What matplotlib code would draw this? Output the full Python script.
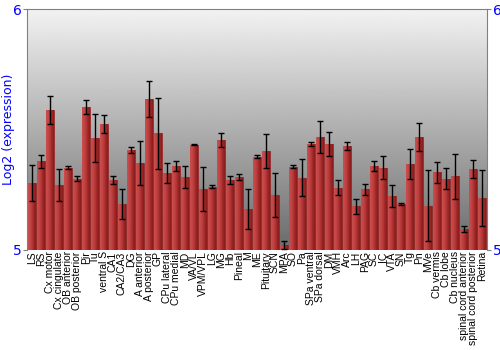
import matplotlib
matplotlib.use("Agg")
import matplotlib.pyplot as plt
from matplotlib.colors import LinearSegmentedColormap
import numpy as np

regions = ["LS", "RS", "Cx motor", "Cx cingulate", "OB anterior", "OB posterior",
           "Pir", "Tu", "ventral S", "CA1", "CA2/CA3", "DG", "A anterior",
           "A posterior", "GP", "CPu lateral", "CPu medial", "MD", "VA/VL",
           "VPM/VPL", "LG", "MG", "Hb", "Pineal", "M", "ME", "Pituitary", "SCN",
           "MPA", "SO", "Pa", "SPa ventral", "SPa dorsal", "DM", "VMH", "Arc",
           "LH", "PAG", "SC", "IC", "VTA", "SN", "Tg", "Pn", "MVe", "Cb vermis",
           "Cb lobe", "Cb nucleus", "spinal cord anterior", "spinal cord posterior",
           "Retina"]
expr = [5.277, 5.368, 5.581, 5.270, 5.342, 5.295, 5.593, 5.466, 5.523, 5.290,
        5.191, 5.416, 5.361, 5.627, 5.485, 5.318, 5.349, 5.303, 5.437, 5.253,
        5.263, 5.456, 5.290, 5.302, 5.170, 5.387, 5.411, 5.228, 5.021, 5.346,
        5.300, 5.440, 5.469, 5.441, 5.259, 5.433, 5.181, 5.252, 5.350, 5.342,
        5.223, 5.190, 5.357, 5.470, 5.184, 5.322, 5.296, 5.306, 5.087, 5.336,
        5.216]
err = [0.075, 0.026, 0.059, 0.066, 0.007, 0.010, 0.028, 0.100, 0.039, 0.017,
       0.063, 0.012, 0.093, 0.076, 0.147, 0.041, 0.021, 0.047, 0.002, 0.093,
       0.008, 0.028, 0.015, 0.012, 0.083, 0.006, 0.069, 0.090, 0.018, 0.006,
       0.077, 0.010, 0.068, 0.050, 0.030, 0.017, 0.032, 0.023, 0.021, 0.046,
       0.046, 0.003, 0.062, 0.059, 0.149, 0.044, 0.044, 0.093, 0.012, 0.039,
       0.117]

fig = plt.figure(figsize=(5, 3.5), dpi=100)
ax = fig.add_axes([0.054, 0.286, 0.92, 0.688])

x = np.arange(len(regions))
x0, x1 = -0.55, len(regions) - 0.45
ax.set_xlim(x0, x1)
ax.set_ylim(5, 6)

# gray gradient background
grad = np.linspace(0.42, 0.95, 256).reshape(-1, 1)
ax.imshow(grad, cmap="gray", vmin=0, vmax=1, aspect="auto", origin="lower",
          extent=[x0, x1, 5, 6], zorder=0)

bars = ax.bar(x, np.array(expr) - 5, bottom=5, width=0.85, color="#b93434",
              edgecolor="#8c1e1e", linewidth=0.5, zorder=2)

# horizontal shading inside each bar
red_cmap = LinearSegmentedColormap.from_list(
    "barshade", ["#c85050", "#c44646", "#b83838", "#9e2626", "#8a1c1c"])
shade = np.linspace(0, 1, 32).reshape(1, -1)
for b in bars:
    im = ax.imshow(shade, cmap=red_cmap, aspect="auto",
                   extent=[b.get_x(), b.get_x() + b.get_width(), 5, b.get_y() + b.get_height()],
                   zorder=2.5)
    im.set_clip_path(b)
ax.set_xlim(x0, x1)
ax.set_ylim(5, 6)

ax.errorbar(x, expr, yerr=err, fmt="none", ecolor="black", elinewidth=1,
            capsize=2.5, capthick=1, zorder=3)

ax.set_xticks(x)
ax.set_xticklabels(regions, rotation=90, fontsize=7.5, family="Liberation Sans")
ax.tick_params(axis="x", length=0, pad=1)

ax.set_yticks([5, 6])
ax.tick_params(axis="y", colors="#808080", labelcolor="blue", labelsize=10,
               length=3, right=True, labelright=True, pad=1)
ax.set_ylabel("Log2 (expression)", color="blue", fontsize=9, labelpad=-2)

for s in ax.spines.values():
    s.set_color("#808080")
ax.spines["bottom"].set_visible(False)

fig.savefig("out.png", dpi=100)
